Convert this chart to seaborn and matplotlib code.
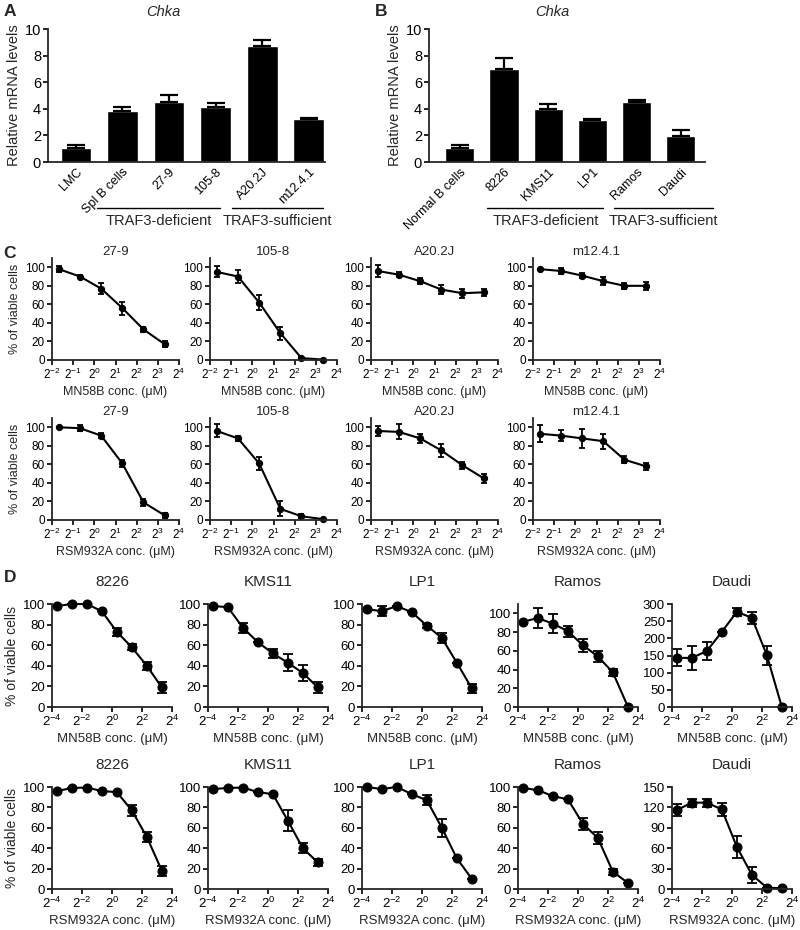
import numpy as np
import pandas as pd
import matplotlib
matplotlib.use("Agg")
import matplotlib.pyplot as plt
import matplotlib.transforms as mtransforms
from matplotlib.ticker import FixedLocator, NullLocator
import seaborn as sns

# ---------------- data ----------------
# Panel A
a_labels = ["LMC", "Spl B cells", "27-9", "105-8", "A20.2J", "m12.4.1"]
a_values = [1.05, 3.8, 4.5, 4.15, 8.7, 3.2]
a_errors = [0.2, 0.3, 0.55, 0.3, 0.5, 0.12]
# Panel B
b_labels = ["Normal B cells", "8226", "KMS11", "LP1", "Ramos", "Daudi"]
b_values = [1.05, 7.0, 4.0, 3.15, 4.5, 1.95]
b_errors = [0.2, 0.8, 0.35, 0.1, 0.15, 0.45]

# Panel C (mouse lines), concentrations in uM
c_conc = [0.3125, 0.625, 1.25, 2.5, 5, 10]
c_lines = ["27-9", "105-8", "A20.2J", "m12.4.1"]
c_mn58b = {
    "27-9":    [98, 90, 77, 56, 33, 17],
    "105-8":   [95, 90, 62, 29, 2, 0.5],
    "A20.2J":  [96, 92, 85, 76, 72, 73],
    "m12.4.1": [98, 96, 91, 85, 80, 80],
}
c_mn58b_err = {
    "27-9":    [3, 2, 6, 7, 3, 3],
    "105-8":   [6, 7, 8, 7, 1, 0],
    "A20.2J":  [6, 3, 3, 5, 5, 4],
    "m12.4.1": [0, 3, 3, 4, 3, 4],
}
c_rsm = {
    "27-9":    [100, 99, 91, 61, 19, 5],
    "105-8":   [96, 88, 61, 12, 4, 1],
    "A20.2J":  [96, 95, 88, 75, 59, 45],
    "m12.4.1": [93, 91, 88, 85, 65, 58],
}
c_rsm_err = {
    "27-9":    [0, 3, 3, 4, 4, 3],
    "105-8":   [7, 3, 7, 8, 2, 0],
    "A20.2J":  [5, 8, 5, 7, 4, 5],
    "m12.4.1": [9, 6, 10, 8, 4, 4],
}

# Panel D (human lines)
d_conc = [0.078125, 0.15625, 0.3125, 0.625, 1.25, 2.5, 5, 10]
d_lines = ["8226", "KMS11", "LP1", "Ramos", "Daudi"]
d_mn58b = {
    "8226":  [98, 100, 100, 93, 73, 58, 40, 19],
    "KMS11": [98, 97, 77, 63, 52, 43, 33, 19],
    "LP1":   [95, 93, 98, 92, 79, 67, 43, 18],
    "Ramos": [91, 95, 89, 81, 66, 54, 37, 0.5],
    "Daudi": [143, 143, 163, 219, 277, 260, 151, 0],
}
d_mn58b_err = {
    "8226":  [0, 0, 0, 0, 4, 3, 4, 5],
    "KMS11": [0, 0, 5, 0, 4, 8, 8, 5],
    "LP1":   [0, 5, 0, 0, 2, 5, 0, 4],
    "Ramos": [0, 11, 10, 6, 7, 6, 4, 0],
    "Daudi": [25, 35, 25, 0, 12, 18, 28, 0],
}
d_rsm = {
    "8226":  [96, 99, 99.5, 96, 95, 77, 51, 18],
    "KMS11": [98, 99, 99.5, 95, 93, 67, 40, 26],
    "LP1":   [100, 98, 100, 93, 87, 60, 30, 10],
    "Ramos": [99, 97, 91, 88, 64, 50, 17, 6],
    "Daudi": [116, 127, 127, 117, 62, 21, 2, 1],
}
d_rsm_err = {
    "8226":  [0, 0, 0, 0, 0, 5, 5, 5],
    "KMS11": [0, 0, 0, 0, 0, 10, 5, 3],
    "LP1":   [0, 0, 0, 0, 5, 9, 0, 0],
    "Ramos": [0, 0, 0, 0, 6, 6, 3, 0],
    "Daudi": [9, 6, 6, 9, 16, 12, 0, 0],
}

# ---------------- style ----------------
sns.set_theme(style="ticks")
plt.rcParams["font.family"] = ["Liberation Sans", "DejaVu Sans"]
plt.rcParams["mathtext.fontset"] = "custom"
plt.rcParams["mathtext.rm"] = "Liberation Sans"
plt.rcParams["mathtext.it"] = "Liberation Sans:italic"
plt.rcParams["axes.linewidth"] = 1.3

W, H = 800, 930
fig = plt.figure(figsize=(W / 100, H / 100), dpi=100)


def rect(left, top, right, bottom):
    return [left / W, 1 - bottom / H, (right - left) / W, (bottom - top) / H]


def base_style(ax, tick_fs):
    sns.despine(ax=ax)
    ax.spines["left"].set_linewidth(1.3)
    ax.spines["bottom"].set_linewidth(1.3)
    ax.tick_params(axis="both", direction="out", length=3.5, width=1.2,
                   labelsize=tick_fs, pad=1.5, colors="black")
    ax.set_facecolor("white")


def bar_panel(ax, labels, values, errors, xlim, groups, title_x):
    df = pd.DataFrame({"cell": labels, "val": values})
    sns.barplot(data=df, x="cell", y="val", color="black", width=0.66,
                errorbar=None, ax=ax, saturation=1)
    ax.errorbar(np.arange(len(values)), values,
                yerr=[np.zeros(len(errors)), errors], fmt="none",
                ecolor="black", elinewidth=1.6, capsize=6.5, capthick=1.6,
                clip_on=False)
    base_style(ax, 10.5)
    ax.set_ylim(0, 10)
    ax.set_yticks([0, 2, 4, 6, 8, 10])
    ax.set_xlim(*xlim)
    ax.tick_params(axis="x", length=0, pad=3)
    ax.set_xticks(np.arange(len(labels)))
    ax.set_xticklabels(labels, rotation=45, ha="right",
                       rotation_mode="anchor", fontsize=9)
    ax.set_xlabel("")
    ax.set_ylabel("Relative mRNA levels", fontsize=10.5, labelpad=3)
    trans = mtransforms.blended_transform_factory(ax.transData, ax.transAxes)
    for (x0, x1, name) in groups:
        ax.plot([x0, x1], [-0.345, -0.345], color="black", lw=1.0,
                transform=trans, clip_on=False)
        ax.text((x0 + x1) / 2, -0.44, name, transform=trans, ha="center",
                va="center", fontsize=10.5)
    fig.text(title_x / W, 1 - 12 / H, "Chka", style="italic", fontsize=10.5,
             ha="center", va="center")


def curve_panel(ax, conc, vals, errs, title, xlabel, ylim, yticks,
                xticks_exp, xlim_exp, msize, cap, tick_fs, title_fs,
                title_pad, xlabel_fs, ylabel=None, ylabel_fs=9):
    df = pd.DataFrame({"conc": conc, "val": vals})
    ax.set_xscale("log", base=2)
    sns.lineplot(data=df, x="conc", y="val", color="black", marker="o",
                 markersize=msize, markeredgecolor="black", linewidth=1.5,
                 ax=ax)
    ax.errorbar(conc, vals, yerr=errs, fmt="none", ecolor="black",
                elinewidth=1.3, capsize=cap, capthick=1.3)
    for ln in ax.lines:
        ln.set_clip_on(False)
    for coll in ax.collections:
        coll.set_clip_on(False)
    base_style(ax, tick_fs)
    ax.set_xlim(2.0 ** xlim_exp[0], 2.0 ** xlim_exp[1])
    ax.xaxis.set_major_locator(FixedLocator([2.0 ** e for e in xticks_exp]))
    ax.xaxis.set_minor_locator(NullLocator())
    ax.set_xticklabels([f"$2^{{{e}}}$" for e in xticks_exp])
    ax.set_ylim(*ylim)
    ax.set_yticks(yticks)
    ax.set_title(title, fontsize=title_fs, pad=title_pad)
    ax.set_xlabel(xlabel, fontsize=xlabel_fs, labelpad=3)
    if ylabel:
        ax.set_ylabel(ylabel, fontsize=ylabel_fs, labelpad=3)
    else:
        ax.set_ylabel("")


# ---------------- panel A & B ----------------
axA = fig.add_axes(rect(48, 29, 325, 162))
bar_panel(axA, a_labels, a_values, a_errors, (-0.6, 5.35),
          [(0.45, 3.1, "TRAF3-deficient"), (3.35, 5.3, "TRAF3-sufficient")],
          163)
axB = fig.add_axes(rect(429, 29, 705, 162))
bar_panel(axB, b_labels, b_values, b_errors, (-0.7, 5.55),
          [(0.62, 3.25, "TRAF3-deficient"), (3.5, 5.72, "TRAF3-sufficient")],
          552)

# ---------------- panel C ----------------
c_left = [52, 210, 371, 533]
c_w = 127
c_rows = [(258, 360, c_mn58b, c_mn58b_err, "MN58B conc. (\u03bcM)"),
          (418, 520, c_rsm, c_rsm_err, "RSM932A conc. (\u03bcM)")]
for (top, bottom, vals, errs, xl) in c_rows:
    for i, name in enumerate(c_lines):
        ax = fig.add_axes(rect(c_left[i], top, c_left[i] + c_w, bottom))
        curve_panel(ax, c_conc, vals[name], errs[name], name, xl,
                    (0, 110), [0, 20, 40, 60, 80, 100],
                    [-2, -1, 0, 1, 2, 3, 4], (-2, 4), 4.5, 2.5, 8.5, 9.5, 1.5,
                    9, "% of viable cells" if i == 0 else None, 9)

# ---------------- panel D ----------------
d_left = [52, 208, 362, 518, 672]
d_w = 120
d_ylims_r1 = {"8226": (0, 100), "KMS11": (0, 100), "LP1": (0, 100),
              "Ramos": (0, 110), "Daudi": (0, 300)}
d_yticks_r1 = {"8226": [0, 20, 40, 60, 80, 100], "KMS11": [0, 20, 40, 60, 80, 100],
               "LP1": [0, 20, 40, 60, 80, 100], "Ramos": [0, 20, 40, 60, 80, 100],
               "Daudi": [0, 50, 100, 150, 200, 250, 300]}
d_ylims_r2 = {"8226": (0, 100), "KMS11": (0, 100), "LP1": (0, 100),
              "Ramos": (0, 100), "Daudi": (0, 150)}
d_yticks_r2 = {"8226": [0, 20, 40, 60, 80, 100], "KMS11": [0, 20, 40, 60, 80, 100],
               "LP1": [0, 20, 40, 60, 80, 100], "Ramos": [0, 20, 40, 60, 80, 100],
               "Daudi": [0, 30, 60, 90, 120, 150]}
d_rows = [(604, 707, d_mn58b, d_mn58b_err, "MN58B conc. (\u03bcM)", d_ylims_r1, d_yticks_r1),
          (787, 889, d_rsm, d_rsm_err, "RSM932A conc. (\u03bcM)", d_ylims_r2, d_yticks_r2)]
for (top, bottom, vals, errs, xl, ylims, yticks) in d_rows:
    for i, name in enumerate(d_lines):
        ax = fig.add_axes(rect(d_left[i], top, d_left[i] + d_w, bottom))
        curve_panel(ax, d_conc, vals[name], errs[name], name, xl,
                    ylims[name], yticks[name],
                    [-4, -2, 0, 2, 4], (-4, 4), 6.5, 3.5, 9.5, 11, 13,
                    9.5, "% of viable cells" if i == 0 else None, 10)

# ---------------- panel letters ----------------
for (x, y, s) in [(10, 12, "A"), (381, 12, "B"), (10, 253, "C"), (10, 578, "D")]:
    fig.text(x / W, 1 - y / H, s, fontsize=12.5, fontweight="bold",
             ha="center", va="center")

fig.savefig("out.png", dpi=100, facecolor="white")
